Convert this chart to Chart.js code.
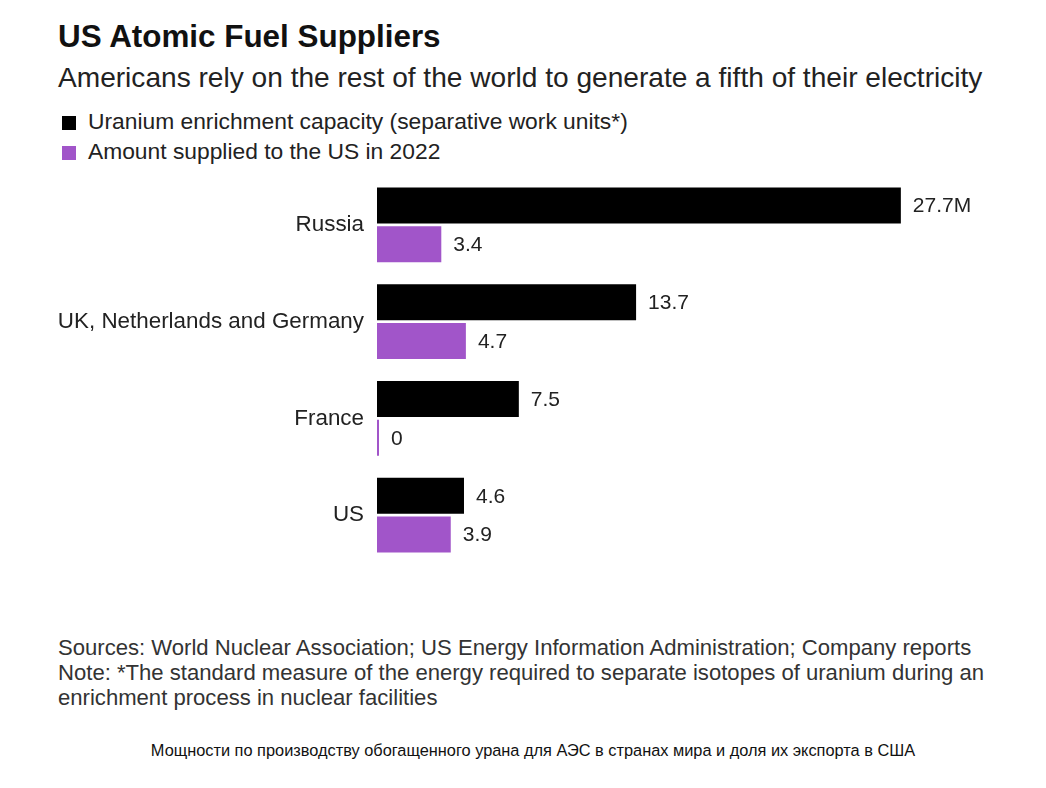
<!DOCTYPE html>
<html>
<head>
<meta charset="utf-8">
<script src="https://cdn.jsdelivr.net/npm/chart.js@4.4.1/dist/chart.umd.min.js"></script>
<style>
  html, body { margin: 0; padding: 0; background: #fff; }
  body { width: 1046px; height: 788px; position: relative; overflow: hidden;
         font-family: "Liberation Sans", Arial, sans-serif; }
  .txt { position: absolute; white-space: nowrap; }
  #title { left: 58px; top: 19px; font-size: 31.4px; line-height: 36px; font-weight: bold; color: #111; }
  #subtitle { left: 58px; top: 62px; font-size: 28.1px; line-height: 32px; color: #222; }
  .leg { left: 62px; font-size: 22.8px; line-height: 30px; color: #222; }
  .leg span.sw { display: inline-block; width: 14px; height: 14px; margin-right: 12px; vertical-align: -1px; }
  #notes { left: 58px; top: 635px; font-size: 22.1px; line-height: 25px; color: #333; }
  #caption { left: 20px; width: 1026px; text-align: center; top: 740px; font-size: 16.35px; line-height: 20px; color: #111; }
  #chartBox { position: absolute; left: 40px; top: 150px; width: 980px; height: 440px; }
</style>
</head>
<body>
<div class="txt" id="title">US Atomic Fuel Suppliers</div>
<div class="txt" id="subtitle">Americans rely on the rest of the world to generate a fifth of their electricity</div>
<div class="txt leg" id="leg1" style="top:106px"></div>
<div class="txt leg" id="leg2" style="top:136px"></div>
<div id="chartBox"><canvas id="chart"></canvas></div>
<div class="txt" id="notes">Sources: World Nuclear Association; US Energy Information Administration; Company reports<br>Note: *The standard measure of the energy required to separate isotopes of uranium during an<br>enrichment process in nuclear facilities</div>
<div class="txt" id="caption">Мощности по производству обогащенного урана для АЭС в странах мира и доля их экспорта в США</div>

<script>
// -------------------- Data --------------------
const countries = ["Russia", "UK, Netherlands and Germany", "France", "US"];
const capacity = [27.7, 13.7, 7.5, 4.6];   // million SWU
const supplied = [3.4, 4.7, 0, 3.9];       // million SWU, 2022
const seriesNames = ["Uranium enrichment capacity (separative work units*)", "Amount supplied to the US in 2022"];
const seriesColors = ["#000000", "#a155c9"];
const unitSuffix = "M";

// legend in html
[1, 2].forEach(i => {
  const el = document.getElementById("leg" + i);
  el.innerHTML = `<span class="sw" style="background:${seriesColors[i - 1]}"></span>${seriesNames[i - 1]}`;
});

function fmt(v, dsIndex, i) {
  let s = v === 0 ? "0" : v.toFixed(1);
  if (dsIndex === 0 && i === 0) s += unitSuffix;
  return s;
}

// value labels at the end of each bar
const valueLabels = {
  id: "valueLabels",
  afterDatasetsDraw(chart) {
    const ctx = chart.ctx;
    ctx.save();
    ctx.font = "21px 'Liberation Sans', Arial, sans-serif";
    ctx.fillStyle = "#222";
    ctx.textBaseline = "middle";
    ctx.textAlign = "left";
    chart.data.datasets.forEach((ds, di) => {
      chart.getDatasetMeta(di).data.forEach((bar, i) => {
        ctx.fillText(fmt(ds.data[i], di, i), bar.x + 12, bar.y + 1);
      });
    });
    ctx.restore();
  }
};

new Chart(document.getElementById("chart"), {
  type: "bar",
  data: {
    labels: countries,
    datasets: [
      { label: seriesNames[0], data: capacity, backgroundColor: seriesColors[0] },
      { label: seriesNames[1], data: supplied, backgroundColor: seriesColors[1], minBarLength: 2 }
    ]
  },
  options: {
    indexAxis: "y",
    responsive: true,
    maintainAspectRatio: false,
    animation: false,
    categoryPercentage: 0.8,
    barPercentage: 0.93,
    layout: { padding: 0 },
    plugins: { legend: { display: false }, tooltip: { enabled: false } },
    scales: {
      x: { display: false, min: 0, max: 34 },
      y: {
        grid: { display: false, drawTicks: false },
        border: { display: false },
        ticks: { color: "#222", padding: 13, font: { size: 22.4, family: "'Liberation Sans', Arial, sans-serif" } },
        afterFit(scale) { scale.width = 337; }
      }
    }
  },
  plugins: [valueLabels]
});
</script>
</body>
</html>
